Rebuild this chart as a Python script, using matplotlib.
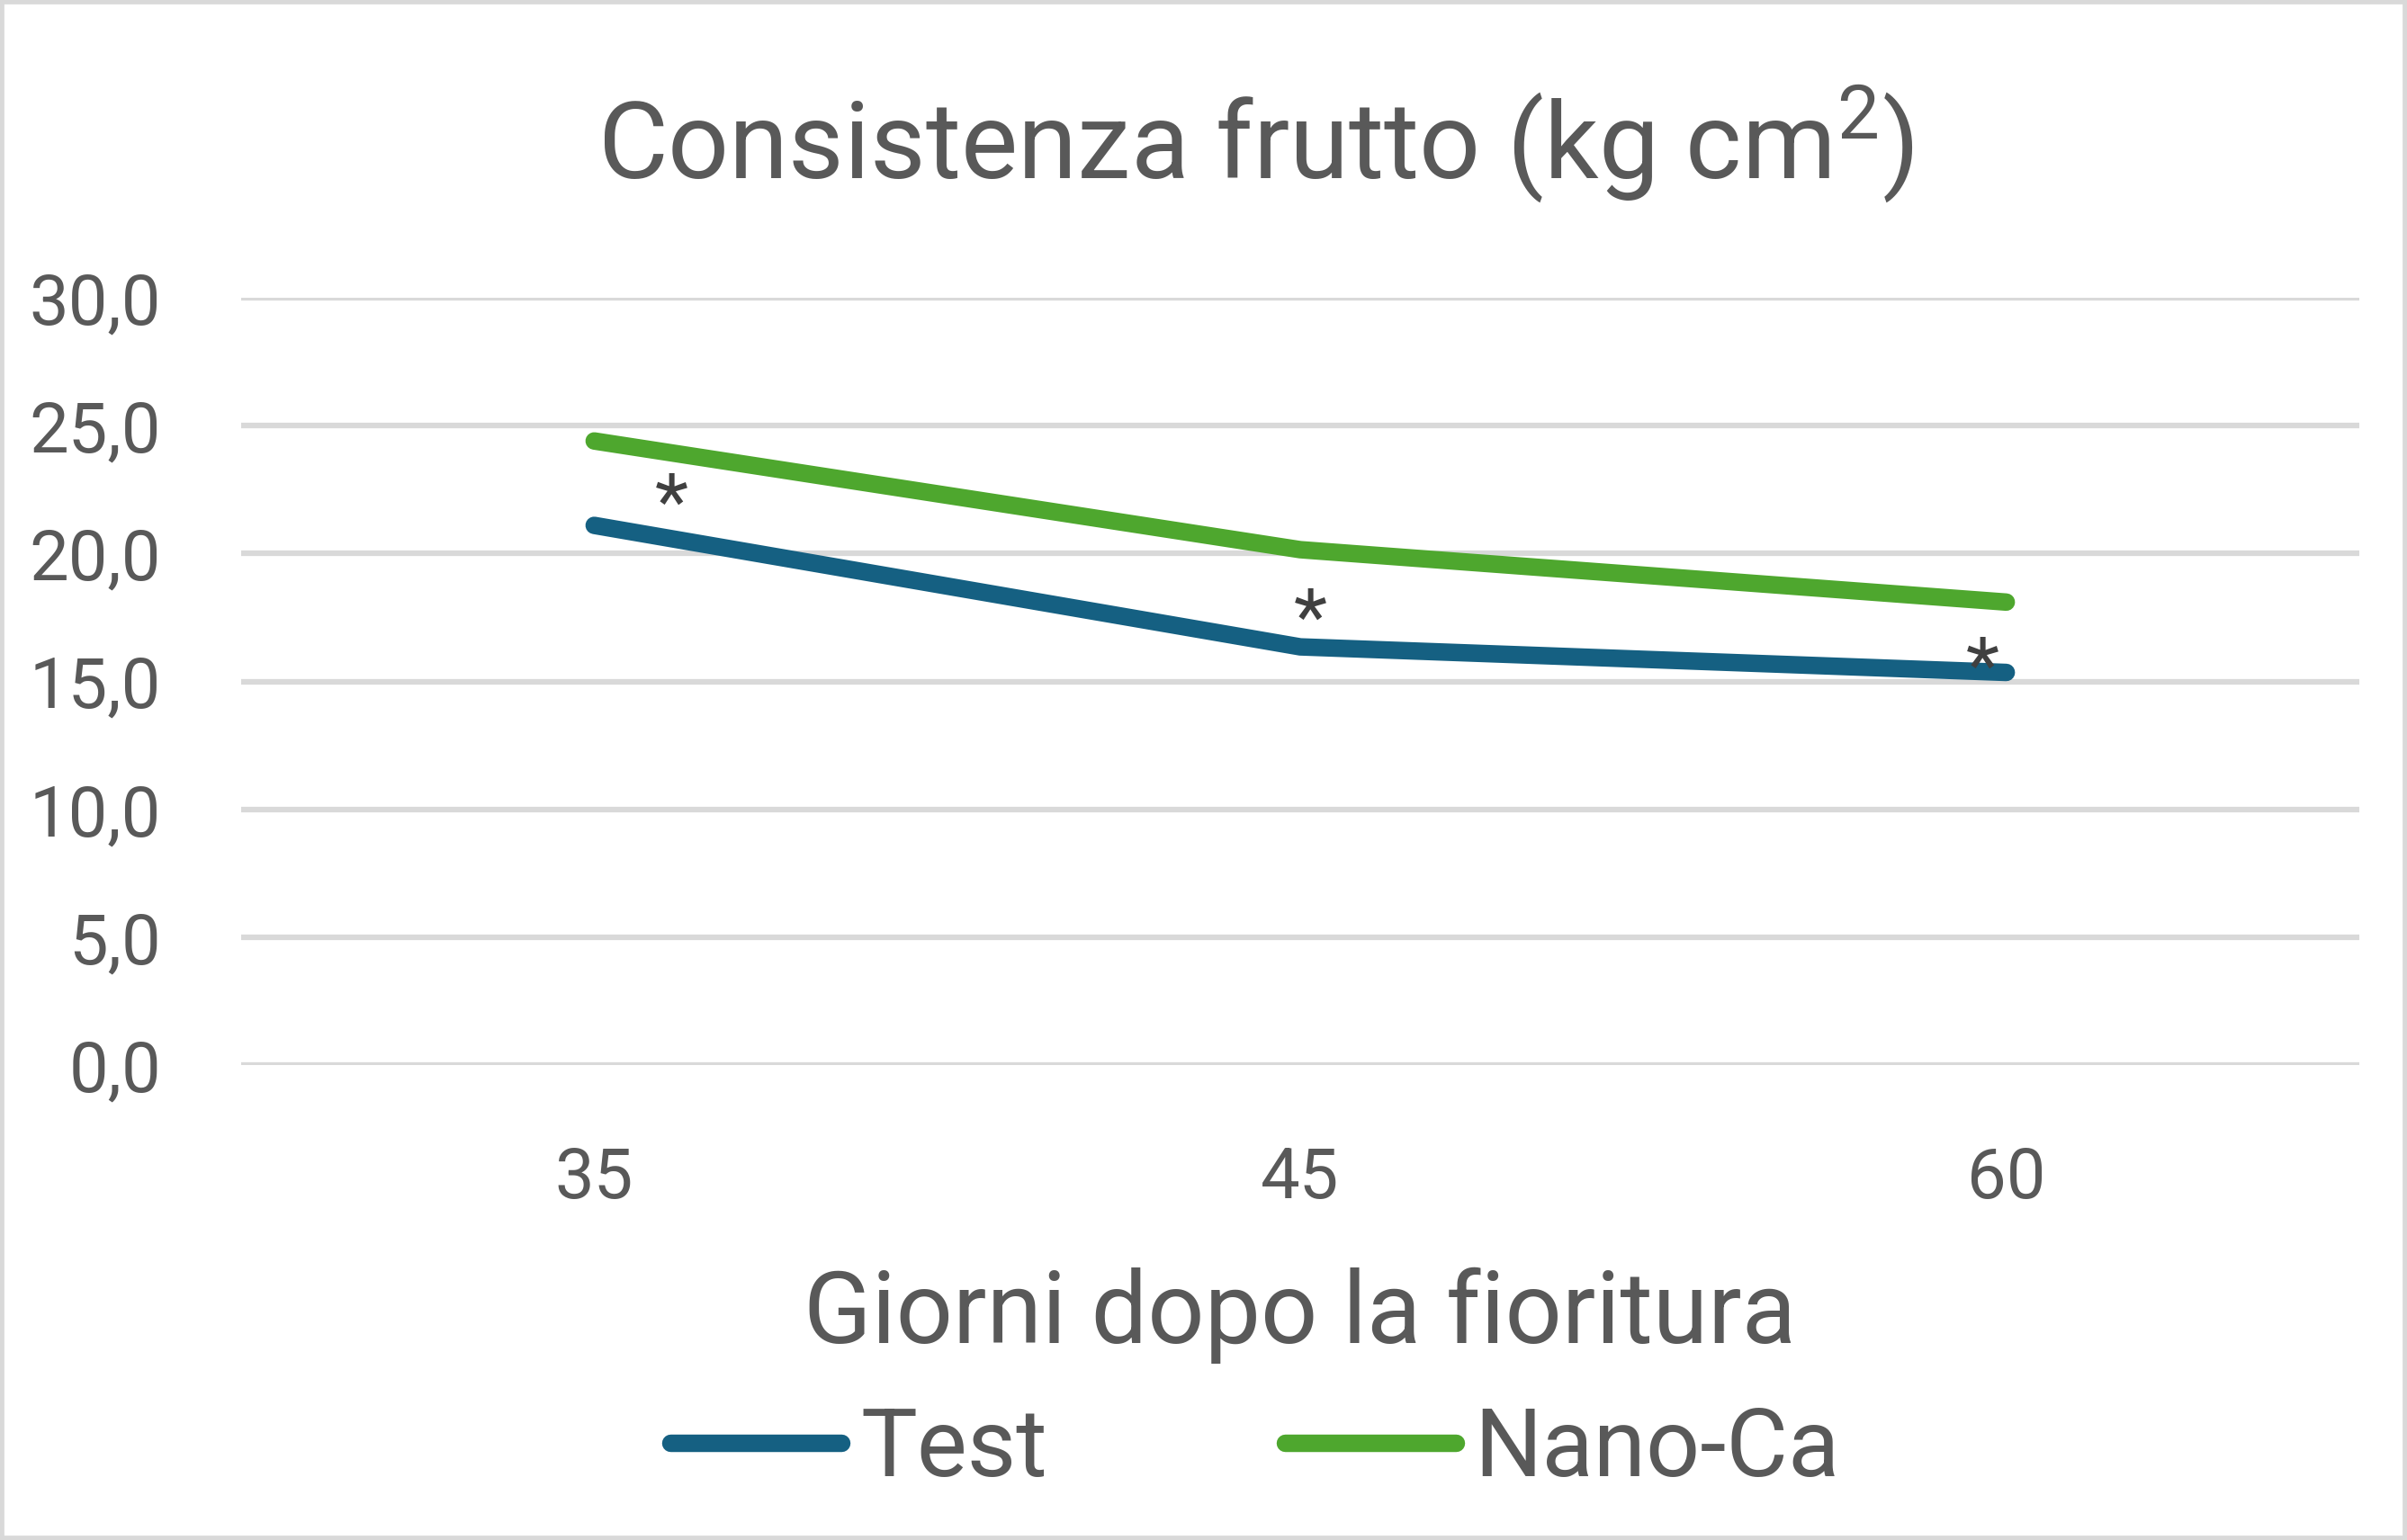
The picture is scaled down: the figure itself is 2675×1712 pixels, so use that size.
"""Consistenza frutto: Test vs Nano-Ca, giorni dopo la fioritura."""

import matplotlib
matplotlib.use("Agg")
import matplotlib.pyplot as plt
from matplotlib.patches import Rectangle

giorni = ["35", "45", "60"]
test = [21.1, 16.35, 15.35]
nano_ca = [24.4, 20.15, 18.1]
# asterischi di significatività (centro del segno, in valori del grafico)
stelle_y = [22.7, 18.2, 16.3]
stelle_dx = [0.11, 0.015, -0.034]
yticks = [0, 5, 10, 15, 20, 25, 30]

TESTO = "#595959"
GRIGLIA = "#d9d9d9"
BLU = "#156082"
VERDE = "#4ea72e"

plt.rcParams["font.family"] = ["Roboto", "DejaVu Sans"]

W, H = 2675, 1712
fig = plt.figure(figsize=(W / 100, H / 100), dpi=100)
ax = fig.add_axes([268 / W, 1 - 1184 / H, (2622 - 268) / W, (1184 - 331) / H])

xs = list(range(len(giorni)))
ax.plot(xs, test, color=BLU, lw=14, solid_capstyle="round",
        solid_joinstyle="round", label="Test", zorder=3)
ax.plot(xs, nano_ca, color=VERDE, lw=14, solid_capstyle="round",
        solid_joinstyle="round", label="Nano-Ca", zorder=3)

# il glifo "*" sta in alto nella riga: lo si abbassa di qualche punto
for x, dx, y in zip(xs, stelle_dx, stelle_y):
    ax.annotate("*", (x + dx, y), xytext=(0, -18), textcoords="offset points",
                ha="center", va="center", fontsize=62, color="#404040",
                zorder=4)

ax.set_xlim(-0.5, len(giorni) - 0.5)
ax.set_ylim(0, 30)
ax.set_yticks(yticks)
ax.set_yticklabels([f"{v:.1f}".replace(".", ",") for v in yticks])
ax.set_xticks(xs)
ax.set_xticklabels(giorni)
ax.tick_params(axis="both", length=0, labelsize=56, labelcolor=TESTO)
ax.tick_params(axis="y", pad=64)
ax.tick_params(axis="x", pad=64)
ax.grid(axis="y", color=GRIGLIA, lw=4.5, zorder=0)
ax.set_axisbelow(True)
for s in ax.spines.values():
    s.set_visible(False)

ax.set_xlabel("Giorni dopo la fioritura", fontsize=80, color=TESTO)
ax.xaxis.set_label_coords(0.5, (1184 - 1462) / 853)
ax.xaxis.label.set_va("center")

fig.text(1395 / W, 1 - 160 / H, r"Consistenza frutto (kg cm$\mathregular{^2}$)",
         ha="center", va="center", fontsize=86, color=TESTO)

leg = fig.legend(loc="center", bbox_to_anchor=(1395 / W, 1 - 1612 / H), ncol=2,
                 frameon=False, fontsize=76, handlelength=1.8,
                 handletextpad=0.2, columnspacing=2.5, labelcolor=TESTO)
for h in leg.get_lines():
    h.set_linewidth(14)
    h.set_solid_capstyle("round")

fig.patches.append(Rectangle((0, 0), 1, 1, transform=fig.transFigure,
                             fill=False, edgecolor=GRIGLIA, lw=7))

fig.savefig("out.png", dpi=100)
